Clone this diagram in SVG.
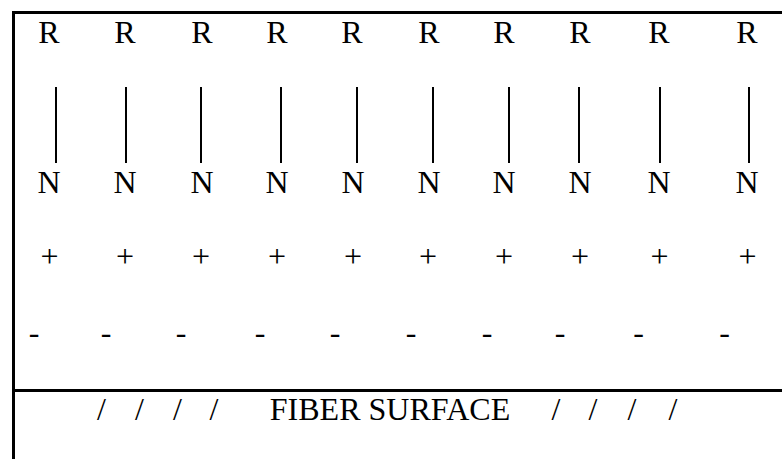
<svg xmlns="http://www.w3.org/2000/svg" width="782" height="459" viewBox="0 0 782 459">
<style>
text{font-family:"Liberation Serif","Times New Roman",serif;font-size:32px;fill:#000;text-anchor:middle}
.frame{stroke:#000;stroke-width:3;fill:none}
.bond{stroke:#000;stroke-width:2}
</style>
<rect width="782" height="459" fill="#fff"/>
<g id="frame">
<line class="frame" x1="13.5" y1="12.5" x2="782" y2="12.5"/>
<line class="frame" x1="13.5" y1="11" x2="13.5" y2="459"/>
<line class="frame" x1="13.5" y1="390.5" x2="782" y2="390.5"/>
</g>
<g id="connectors">
<line class="bond" x1="56" y1="87" x2="56" y2="163"/>
<line class="bond" x1="126" y1="87" x2="126" y2="163"/>
<line class="bond" x1="201" y1="87" x2="201" y2="163"/>
<line class="bond" x1="281" y1="87" x2="281" y2="163"/>
<line class="bond" x1="357" y1="87" x2="357" y2="163"/>
<line class="bond" x1="433" y1="87" x2="433" y2="163"/>
<line class="bond" x1="509" y1="87" x2="509" y2="163"/>
<line class="bond" x1="579" y1="87" x2="579" y2="163"/>
<line class="bond" x1="660" y1="87" x2="660" y2="163"/>
<line class="bond" x1="749" y1="87" x2="749" y2="163"/>
</g>
<g id="R-row">
<text x="49" y="43">R</text>
<text x="125" y="43">R</text>
<text x="202" y="43">R</text>
<text x="277" y="43">R</text>
<text x="352" y="43">R</text>
<text x="429" y="43">R</text>
<text x="504" y="43">R</text>
<text x="580" y="43">R</text>
<text x="659" y="43">R</text>
<text x="747" y="43">R</text>
</g>
<g id="N-row">
<text x="49" y="193">N</text>
<text x="125" y="193">N</text>
<text x="202" y="193">N</text>
<text x="277" y="193">N</text>
<text x="353" y="193">N</text>
<text x="429" y="193">N</text>
<text x="504" y="193">N</text>
<text x="580" y="193">N</text>
<text x="659" y="193">N</text>
<text x="747" y="193">N</text>
</g>
<g id="plus-row">
<text x="49.5" y="267">+</text>
<text x="125" y="267">+</text>
<text x="201" y="267">+</text>
<text x="277" y="267">+</text>
<text x="353" y="267">+</text>
<text x="428" y="267">+</text>
<text x="504" y="267">+</text>
<text x="580" y="267">+</text>
<text x="659.5" y="267">+</text>
<text x="747.5" y="267">+</text>
</g>
<g id="minus-row">
<text x="34" y="343">-</text>
<text x="106" y="343">-</text>
<text x="181" y="343">-</text>
<text x="260" y="343">-</text>
<text x="335" y="343">-</text>
<text x="411" y="343">-</text>
<text x="487" y="343">-</text>
<text x="560" y="343">-</text>
<text x="638.5" y="343">-</text>
<text x="724.5" y="343">-</text>
</g>
<g id="surface">
<text x="101.5" y="420">/</text>
<text x="139.5" y="420">/</text>
<text x="177.5" y="420">/</text>
<text x="214" y="420">/</text>
<text x="390" y="420">FIBER SURFACE</text>
<text x="556" y="420">/</text>
<text x="593" y="420">/</text>
<text x="632" y="420">/</text>
<text x="673" y="420">/</text>
</g>
</svg>
